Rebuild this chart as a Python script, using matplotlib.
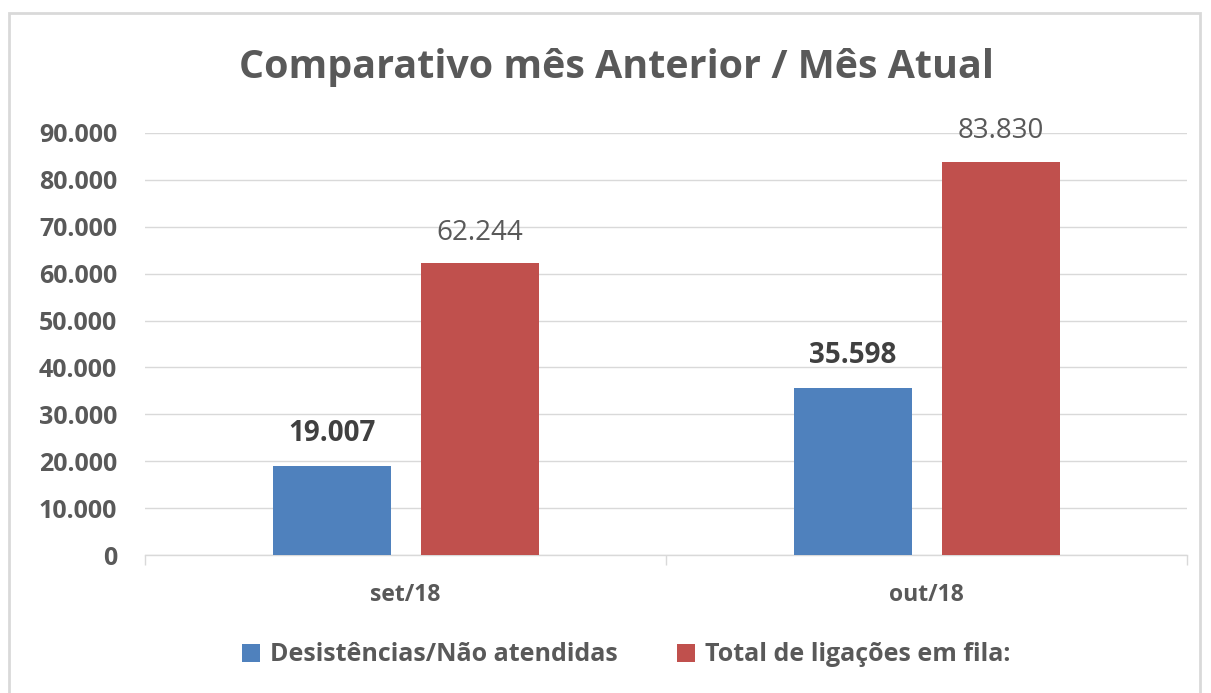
import numpy as np
import matplotlib.pyplot as plt
from matplotlib.patches import Rectangle
from matplotlib.ticker import FuncFormatter, FixedLocator

months = ['set/18', 'out/18']
desistencias = [19007, 35598]
total_fila = [62244, 83830]
series_names = ['Desistências/Não atendidas', 'Total de ligações em fila:']
colors = ['#4f81bd', '#c0504d']

plt.rcParams['font.family'] = ['Open Sans', 'DejaVu Sans']
grey = '#595959'


def fmt(v):
    return f'{int(v):,}'.replace(',', '.')


fig = plt.figure(figsize=(12.11, 6.93), dpi=100)
ax = fig.add_axes([0.1197, 0.1991, 0.8607, 0.6090])

x = np.arange(len(months))
w = 0.2265
off = 0.142
b1 = ax.bar(x - off, desistencias, w, color=colors[0], label=series_names[0], zorder=3)
b2 = ax.bar(x + off, total_fila, w, color=colors[1], label=series_names[1], zorder=3)

# data labels: blue bold, red regular
for r, v in zip(b1, desistencias):
    ax.annotate(fmt(v), (r.get_x() + r.get_width() / 2, v), xytext=(0, 18),
                textcoords='offset points', ha='center', va='baseline',
                fontsize=20, fontweight='bold', color='#404040')
for r, v in zip(b2, total_fila):
    ax.annotate(fmt(v), (r.get_x() + r.get_width() / 2, v), xytext=(0, 17),
                textcoords='offset points', ha='center', va='baseline',
                fontsize=20, color=grey)

ax.set_xlim(-0.5, len(months) - 0.5)
ax.set_ylim(0, 90000)
ax.set_yticks(np.arange(0, 90001, 10000))
ax.yaxis.set_major_formatter(FuncFormatter(lambda v, p: fmt(v)))
ax.set_xticks(x)
ax.set_xticklabels(months)
ax.xaxis.set_minor_locator(FixedLocator(np.arange(-0.5, len(months), 1.0)))
ax.tick_params(axis='x', which='major', length=0, pad=20)
ax.tick_params(axis='x', which='minor', length=7, color='#d9d9d9', width=1)
ax.tick_params(axis='y', length=0, pad=20)
for lab in ax.get_yticklabels():
    lab.set_fontsize(18)
    lab.set_fontweight('bold')
    lab.set_color(grey)
for lab in ax.get_xticklabels():
    lab.set_fontsize(16.5)
    lab.set_fontweight('bold')
    lab.set_color(grey)

ax.grid(axis='y', color='#d9d9d9', linewidth=1, zorder=0)
for s in ['top', 'right', 'left']:
    ax.spines[s].set_visible(False)
ax.spines['bottom'].set_color('#d9d9d9')
ax.spines['bottom'].set_linewidth(1)

fig.text(0.509, 0.903, 'Comparativo mês Anterior / Mês Atual', ha='center', va='center',
         fontsize=28.4, fontweight='bold', color=grey)

leg = fig.legend(loc='center', bbox_to_anchor=(0.517, 0.055), ncol=2, frameon=False,
                 handlelength=0.72, handleheight=0.72, handletextpad=0.4, columnspacing=2.4,
                 prop={'size': 18, 'weight': 'bold'})
for t in leg.get_texts():
    t.set_color(grey)

fig.patches.append(Rectangle((9 / 1211, -0.05), (1200 - 9) / 1211, 1 - 13 / 693 + 0.05,
                             transform=fig.transFigure, fill=False, edgecolor='#d9d9d9',
                             linewidth=2))

fig.savefig('out.png', dpi=100)
